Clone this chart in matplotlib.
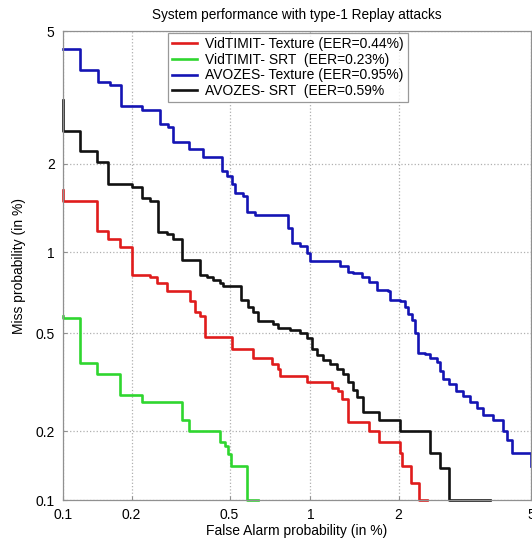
import numpy as np
import matplotlib
matplotlib.use("Agg")
import matplotlib.pyplot as plt
from matplotlib.ticker import FixedLocator, FixedFormatter, NullLocator
from statistics import NormalDist

plt.rcParams['font.family'] = ['Liberation Sans', 'DejaVu Sans']

# DET curves, false alarm % vs miss %, step corners
vt_tex_fa = [0.100, 0.100, 0.119, 0.141, 0.159, 0.178, 0.201, 0.240, 0.256, 0.282, 0.350, 0.367,
             0.383, 0.40, 0.51, 0.616, 0.725, 0.76, 0.774, 0.97, 1.19, 1.25, 1.29, 1.35, 1.36,
             1.60, 1.73, 2.02, 2.05, 2.19, 2.33, 2.47]
vt_tex_miss = [1.64, 1.51, 1.50, 1.19, 1.11, 1.04, 0.827, 0.81, 0.776, 0.72, 0.66, 0.60,
               0.58, 0.485, 0.435, 0.40, 0.378, 0.36, 0.34, 0.32, 0.304, 0.293, 0.272, 0.246, 0.219,
               0.20, 0.18, 0.162, 0.141, 0.119, 0.1, 0.1]

vt_srt_fa = [0.100, 0.100, 0.119, 0.141, 0.178, 0.221, 0.325, 0.344, 0.458, 0.48, 0.495, 0.505, 0.585, 0.645]
vt_srt_miss = [0.58, 0.57, 0.383, 0.344, 0.282, 0.264, 0.223, 0.201, 0.180, 0.173, 0.159, 0.141, 0.1, 0.1]

av_tex_fa = [0.100, 0.119, 0.1425, 0.161, 0.180, 0.221, 0.264, 0.285, 0.298, 0.344, 0.393, 0.466,
             0.489, 0.511, 0.525, 0.565, 0.585, 0.627, 0.827, 0.856, 0.917, 0.97, 0.995, 1.27,
             1.35, 1.41, 1.51, 1.60, 1.70, 1.84, 1.87, 2.02, 2.10, 2.15, 2.21, 2.26, 2.31, 2.43,
             2.52, 2.65, 2.70, 2.76, 2.89, 3.04, 3.17, 3.33, 3.50, 3.64, 3.90, 4.17, 4.28, 4.43, 5.0]
av_tex_miss = [4.46, 3.88, 3.59, 3.50, 3.04, 2.95, 2.67, 2.62, 2.34, 2.23, 2.10, 1.89,
               1.82, 1.71, 1.60, 1.56, 1.38, 1.35, 1.22, 1.08, 1.05, 0.99, 0.93, 0.89,
               0.85, 0.84, 0.81, 0.78, 0.73, 0.72, 0.67, 0.66, 0.63, 0.59, 0.56, 0.50, 0.42, 0.415,
               0.40, 0.385, 0.353, 0.328, 0.313, 0.293, 0.28, 0.264, 0.251, 0.235, 0.223, 0.20, 0.184, 0.162, 0.141]

av_srt_fa = [0.100, 0.100, 0.119, 0.141, 0.159, 0.201, 0.221, 0.240, 0.259, 0.282, 0.298, 0.325,
             0.383, 0.407, 0.43, 0.458, 0.470, 0.555, 0.59, 0.616, 0.645, 0.73, 0.76, 0.842,
             0.917, 0.97, 1.01, 1.06, 1.11, 1.175, 1.24, 1.30, 1.36, 1.41, 1.45, 1.52, 1.73,
             2.02, 2.52, 2.70, 2.89, 3.82]
av_srt_miss = [3.17, 2.54, 2.19, 2.03, 1.71, 1.68, 1.54, 1.50, 1.18, 1.16, 1.11, 0.94,
               0.827, 0.81, 0.79, 0.776, 0.755, 0.67, 0.627, 0.60, 0.555, 0.54, 0.525, 0.515,
               0.50, 0.48, 0.435, 0.41, 0.393, 0.378, 0.36, 0.344, 0.32, 0.298, 0.277, 0.242, 0.223,
               0.20, 0.162, 0.139, 0.1, 0.1]

labels = ['VidTIMIT- Texture (EER=0.44%)', 'VidTIMIT- SRT  (EER=0.23%)',
          'AVOZES- Texture (EER=0.95%)', 'AVOZES- SRT  (EER=0.59%']
colors = ['#e01c1c', '#2fd62f', '#1414b4', '#111111']

tick_vals = [0.1, 0.2, 0.5, 1, 2, 5]
tick_txt = ['0.1', '0.2', '0.5', '1', '2', '5']

# normal deviate scale (DET plot)
nd = NormalDist()
_ppf = np.vectorize(nd.inv_cdf, otypes=[float])
_cdf = np.vectorize(nd.cdf, otypes=[float])

def fwd(p):
    p = np.clip(np.asarray(p, dtype=float) / 100.0, 1e-9, 1 - 1e-9)
    return _ppf(p)

def inv(z):
    return _cdf(np.asarray(z, dtype=float)) * 100.0

fig = plt.figure(figsize=(5.32, 5.40), dpi=100)
ax = fig.add_axes([0.1184, 0.074, 0.8797, 0.8685])
ax.set_xscale('function', functions=(fwd, inv))
ax.set_yscale('function', functions=(fwd, inv))

series = [(vt_tex_fa, vt_tex_miss), (vt_srt_fa, vt_srt_miss),
          (av_tex_fa, av_tex_miss), (av_srt_fa, av_srt_miss)]
for (fa, miss), lab, col in zip(series, labels, colors):
    ax.plot(fa, miss, drawstyle='steps-post', color=col, lw=1.9, label=lab, clip_on=False)

ax.set_xlim(0.1, 5)
ax.set_ylim(0.1, 5)
for axis in (ax.xaxis, ax.yaxis):
    axis.set_major_locator(FixedLocator(tick_vals))
    axis.set_major_formatter(FixedFormatter(tick_txt))
    axis.set_minor_locator(NullLocator())

ax.grid(True, linestyle=':', color='#b0b0b0', lw=0.9)
ax.tick_params(direction='in', length=3, color='#909090', labelsize=10, pad=6)
for s in ax.spines.values():
    s.set_color('#909090')
    s.set_linewidth(0.9)

ax.set_xlabel('False Alarm probability (in %)', fontsize=10, labelpad=1)
ax.set_ylabel('Miss probability (in %)', fontsize=10, labelpad=7)
ax.set_title('System performance with type-1 Replay attacks', fontsize=9.8, pad=9)

leg = ax.legend(loc='upper left', bbox_to_anchor=(0.224, 0.996), fontsize=10,
                frameon=True, fancybox=False, edgecolor='#808080', handlelength=1.8,
                borderpad=0.3, labelspacing=0.12, handletextpad=0.6, borderaxespad=0)
leg.get_frame().set_linewidth(0.9)

fig.savefig('out.png', dpi=100)
